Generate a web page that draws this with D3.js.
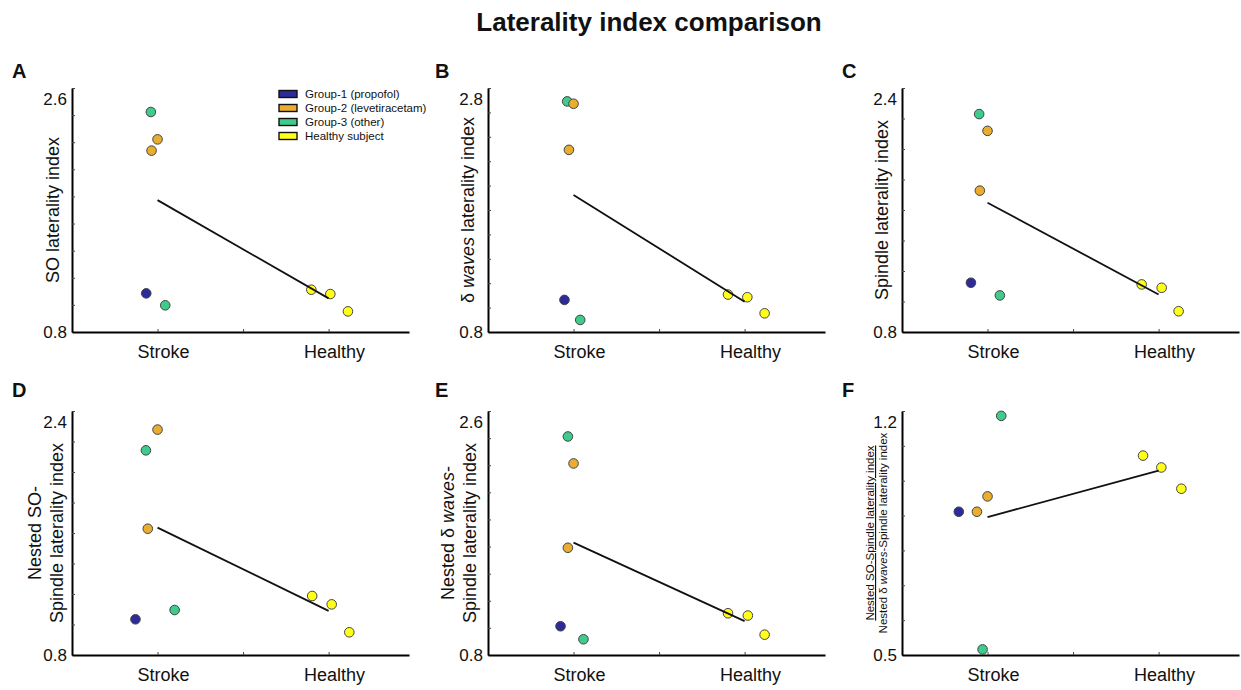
<!DOCTYPE html>
<html>
<head>
<meta charset="utf-8">
<script src="https://cdn.jsdelivr.net/npm/d3@7"></script>
<style>
  body { margin: 0; background: white; }
  text { font-family: "Liberation Sans", Arial, sans-serif; fill: #111; }
</style>
</head>
<body>
<div id="chart"></div>
<script>
// subjects: 5 stroke patients then 3 healthy subjects
let groups = ["Group-1 (propofol)", "Group-2 (levetiracetam)", "Group-3 (other)", "Healthy subject"]
let groupColors = ["#2d2a9b", "#e9ad2f", "#3ecb8c", "#ffff1a"]
let categories = ["Stroke", "Healthy"]
let subjectGroup = [0, 1, 1, 2, 2, 3, 3, 3]
let subjectCat = [1, 1, 1, 1, 1, 2, 2, 2]

// laterality values
let soIndex = [1.085, 2.221, 2.138, 2.423, 0.997, 1.112, 1.080, 0.952]
let deltaIndex = [1.063, 2.671, 2.293, 2.690, 0.899, 1.107, 1.085, 0.953]
let spindleIndex = [1.123, 2.119, 1.727, 2.229, 1.040, 1.112, 1.090, 0.936]
let nestedSoIndex = [1.034, 2.278, 1.628, 2.142, 1.095, 1.187, 1.132, 0.949]
let nestedDeltaIndex = [1.012, 2.213, 1.591, 2.412, 0.916, 1.108, 1.091, 0.950]
let ratioIndex = [0.911, 0.955, 0.911, 1.186, 0.516, 1.072, 1.038, 0.977]

// horizontal jitter (x units) of each dot around its category
let soJitter = [-0.066, 0, -0.035, -0.039, 0.045, -0.101, 0.010, 0.113]
let deltaJitter = [-0.053, 0, -0.027, -0.037, 0.039, -0.097, 0.016, 0.117]
let spindleJitter = [-0.097, 0, -0.045, -0.049, 0.072, -0.099, 0.018, 0.117]
let nestedSoJitter = [-0.129, 0, -0.057, -0.068, 0.100, -0.096, 0.018, 0.121]
let nestedDeltaJitter = [-0.076, 0, -0.033, -0.033, 0.058, -0.097, 0.019, 0.117]
let ratioJitter = [-0.168, 0, -0.062, 0.080, -0.029, -0.091, 0.016, 0.133]

let yDomains = [[0.8, 2.6], [0.8, 2.8], [0.8, 2.4], [0.8, 2.4], [0.8, 2.6], [0.5, 1.2]]
let yTickSteps = [0.2, 0.2, 0.2, 0.2, 0.2, 0.1]
let yTickLabels = [["0.8", "2.6"], ["0.8", "2.8"], ["0.8", "2.4"], ["0.8", "2.4"], ["0.8", "2.6"], ["0.5", "1.2"]]
let panelLetters = ["A", "B", "C", "D", "E", "F"]

let width = 1241, height = 690
let svg = d3.select("#chart").append("svg")
    .attr("width", width).attr("height", height)

svg.append("text")
    .attr("x", 649).attr("y", 31)
    .attr("text-anchor", "middle")
    .style("font-size", "26px").style("font-weight", "bold")
    .text("Laterality index comparison")

let colX = [72, 488, 902]
let rowTop = [88, 411]
let rowBottom = [332, 655]
let letterX = [12, 435, 842]
let letterY = [78, 397]

let panelValues = [soIndex, deltaIndex, spindleIndex, nestedSoIndex, nestedDeltaIndex, ratioIndex]
let panelJitter = [soJitter, deltaJitter, spindleJitter, nestedSoJitter, nestedDeltaJitter, ratioJitter]

// y axis label writers
function labelLines(g, cx, cy, lines, size) {
    lines.forEach((parts, li) => {
        let t = g.append("text")
            .attr("transform", `translate(${cx[li]},${cy}) rotate(-90)`)
            .attr("text-anchor", "middle")
            .style("font-size", size + "px")
        parts.forEach(p => {
            let ts = t.append("tspan").text(p[0])
            if (p[1] === "i") ts.style("font-style", "italic")
            if (p[1] === "u") ts.style("text-decoration", "underline")
        })
    })
}

let yLabels = [
    {x: [59], lines: [[["SO laterality index"]]], size: 18},
    {x: [474], lines: [[["δ "], ["waves", "i"], [" laterality index"]]], size: 18},
    {x: [888], lines: [[["Spindle laterality index"]]], size: 18},
    {x: [41, 63], lines: [[["Nested SO-"]], [["Spindle laterality index"]]], size: 18},
    {x: [454, 476], lines: [[["Nested δ "], ["waves", "i"], ["-"]], [["Spindle laterality index"]]], size: 18},
    {x: [874, 887], lines: [[["Nested SO-Spindle laterality index", "u"]], [["Nested δ "], ["waves", "i"], ["-Spindle laterality index"]]], size: 11.5}
]

panelValues.forEach((vals, p) => {
    let col = p % 3, row = Math.floor(p / 3)
    let x0 = colX[col], top = rowTop[row], bottom = rowBottom[row]
    let g = svg.append("g")

    let x = d3.scaleLinear().domain([0.5, 2.47]).range([x0, x0 + 337])
    let y = d3.scaleLinear().domain(yDomains[p]).range([bottom, top])

    // panel letter
    g.append("text")
        .attr("x", letterX[col]).attr("y", letterY[row])
        .style("font-size", "20px").style("font-weight", "bold")
        .text(panelLetters[p])

    let [lo, hi] = yDomains[p]
    let ticks = d3.range(Math.round((hi - lo) / yTickSteps[p]) + 1).map(i => lo + i * yTickSteps[p])

    g.append("g")
        .attr("transform", `translate(${x0},0)`)
        .call(d3.axisLeft(y).tickValues(ticks).tickSizeInner(-3).tickSizeOuter(0).tickFormat(""))
        .call(a => a.select(".domain").attr("stroke-width", 2))
        .call(a => a.selectAll(".tick line").attr("stroke", "#444"))

    g.append("g")
        .attr("transform", `translate(0,${bottom})`)
        .call(d3.axisBottom(x).tickValues([1, 1.5, 2]).tickSizeInner(-3).tickSizeOuter(0).tickFormat(""))
        .call(a => a.select(".domain").attr("stroke-width", 2))
        .call(a => a.selectAll(".tick line").attr("stroke", "#444"))

    // end tick labels
    g.append("text")
        .attr("x", x0 - 5).attr("y", y(lo))
        .attr("text-anchor", "end").attr("dominant-baseline", "central")
        .style("font-size", "17px")
        .text(yTickLabels[p][0])
    g.append("text")
        .attr("x", x0 - 5).attr("y", y(hi) + 11)
        .attr("text-anchor", "end").attr("dominant-baseline", "central")
        .style("font-size", "17px")
        .text(yTickLabels[p][1])

    // category labels
    g.selectAll(".cat")
        .data(categories)
        .join("text")
        .attr("x", (d, i) => x(i + 1) + 6)
        .attr("y", bottom + 26)
        .attr("text-anchor", "middle")
        .style("font-size", "18px")
        .text(d => d)

    // y label
    let lab = yLabels[p]
    labelLines(g, lab.x, (top + bottom) / 2, lab.lines, lab.size)

    // dots, greens first so the others sit on top
    let pts = vals.map((v, i) => ({v: v, xv: subjectCat[i] + panelJitter[p][i], grp: subjectGroup[i]}))
    let order = [2, 1, 0, 3]
    pts.sort((a, b) => order.indexOf(a.grp) - order.indexOf(b.grp))
    g.selectAll("circle")
        .data(pts)
        .join("circle")
        .attr("cx", d => x(d.xv))
        .attr("cy", d => y(d.v))
        .attr("r", 4.8)
        .attr("fill", d => groupColors[d.grp])
        .attr("stroke", "#444")
        .attr("stroke-width", 1)

    // mean line
    let means = [1, 2].map(c => [c, d3.mean(vals.filter((v, i) => subjectCat[i] === c))])
    g.append("path")
        .attr("d", d3.line().x(d => x(d[0])).y(d => y(d[1]))(means))
        .attr("fill", "none")
        .attr("stroke", "#111")
        .attr("stroke-width", 1.8)
})

// legend (panel A)
let legend = svg.append("g")
legend.selectAll("rect")
    .data(groups)
    .join("rect")
    .attr("x", 279).attr("y", (d, i) => 90.5 + i * 14)
    .attr("width", 18).attr("height", 7)
    .attr("fill", (d, i) => groupColors[i])
    .attr("stroke", "#111").attr("stroke-width", 1.4)
legend.selectAll("text")
    .data(groups)
    .join("text")
    .attr("x", 305).attr("y", (d, i) => 94 + i * 14)
    .attr("dominant-baseline", "central")
    .style("font-size", "11.5px")
    .text(d => d)
</script>
</body>
</html>
